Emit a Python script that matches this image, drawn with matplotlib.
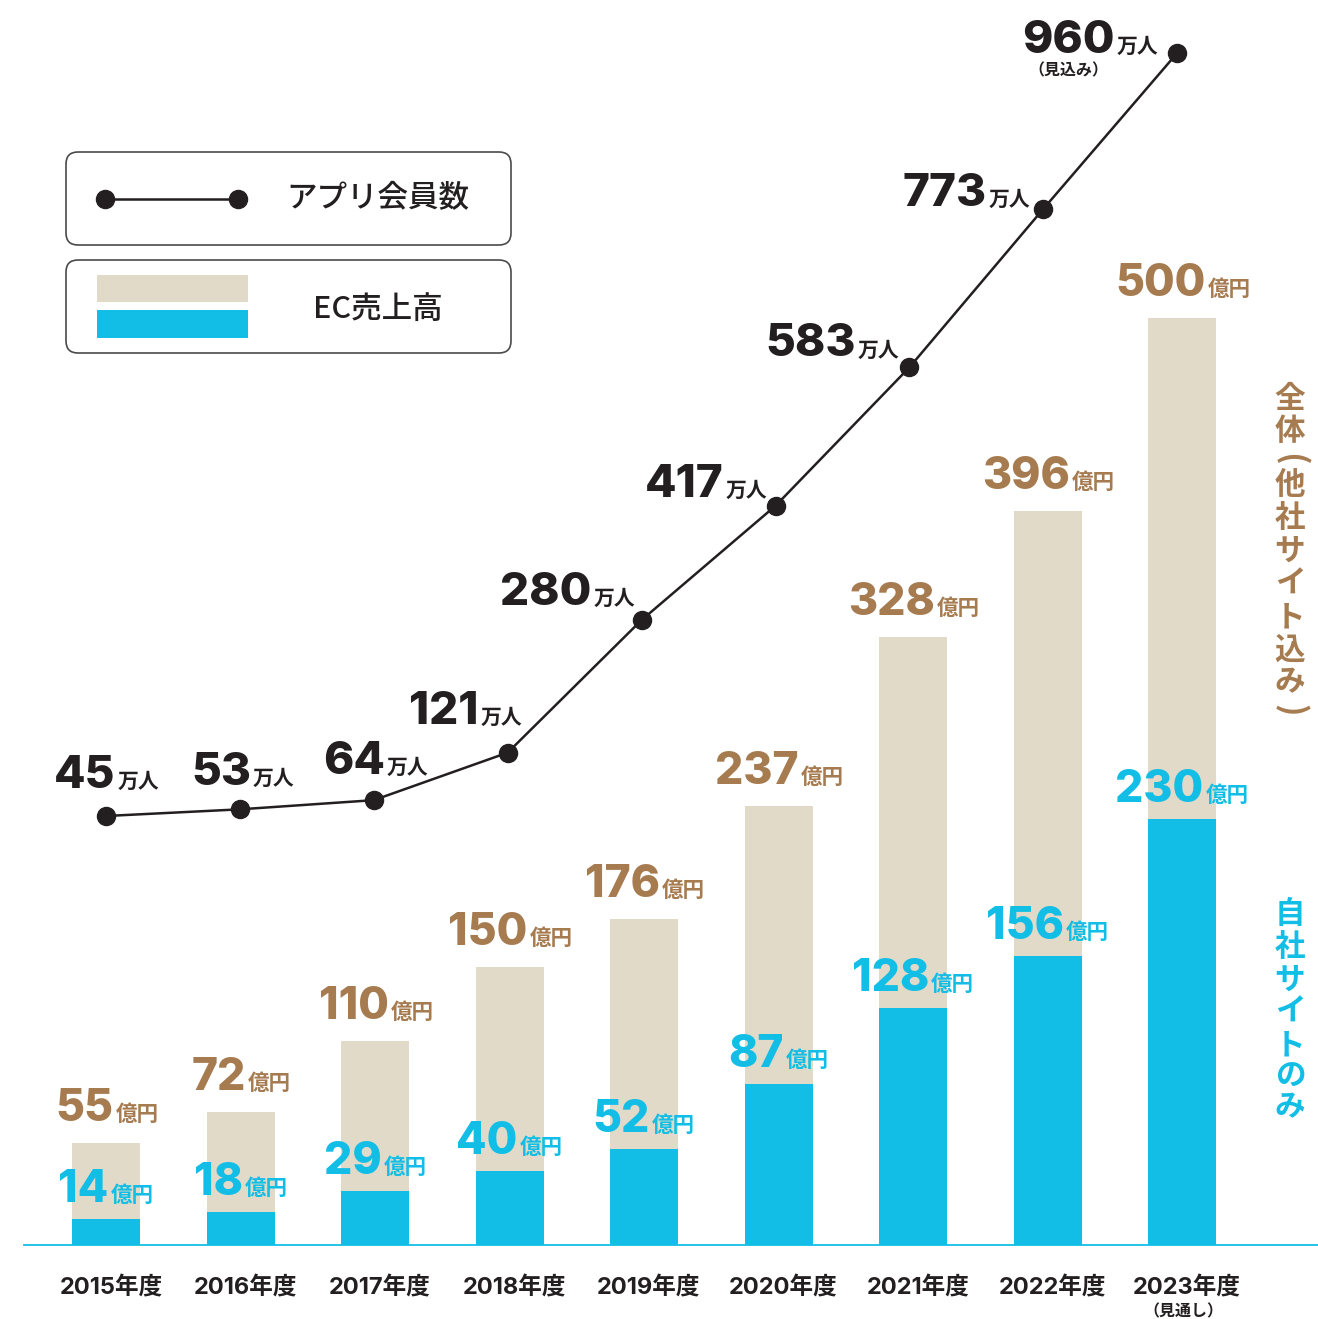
import matplotlib
matplotlib.use("Agg")
import matplotlib.pyplot as plt
from matplotlib.patches import FancyBboxPatch, Rectangle
from matplotlib.lines import Line2D

# ---------------- data ----------------
years = ["2015", "2016", "2017", "2018", "2019", "2020", "2021", "2022", "2023"]
year_suffix = "年度"
total_sales = [55, 72, 110, 150, 176, 237, 328, 396, 500]      # 億円 全体(他社サイト込み)
own_sales = [14, 18, 29, 40, 52, 87, 128, 156, 230]            # 億円 自社サイトのみ
app_members = [45, 53, 64, 121, 280, 417, 583, 773, 960]       # 万人 アプリ会員数
sales_unit = "億円"
member_unit = "万人"
legend_line_label = "アプリ会員数"
legend_bar_label = "EC売上高"
total_side_label = "全体(他社サイト込み)"
own_side_label = "自社サイトのみ"
last_member_note = "（見込み）"
last_year_note = "（見通し）"

# ---------------- style ----------------
BEIGE = "#E1DAC8"
CYAN = "#12BEE6"
BROWN = "#A67B50"
DARK = "#231F20"
NUM_FONT = ["Inter", "Noto Sans CJK JP"]
JP_FONT = ["Noto Sans CJK JP", "DejaVu Sans"]

W, H = 1318, 1319
fig = plt.figure(figsize=(W / 100, H / 100), dpi=100)
fig.patch.set_facecolor("white")

# bar axes: pixel mapping (bar centers at 106 + 134.5*i, baseline at y=1245)
ax = fig.add_axes([0, 0, 1, 1])
ax.patch.set_alpha(0)
bar_pitch = 134.5
ax.set_xlim(-106 / bar_pitch, (W - 106) / bar_pitch)
ppu = 927 / 500.0
ax.set_ylim(-(H - 1245) / ppu, 1245 / ppu)
ax.axis("off")

xs = list(range(len(years)))
bw = 68 / bar_pitch
ax.bar(xs, total_sales, width=bw, color=BEIGE, zorder=2)
ax.bar(xs, own_sales, width=bw, color=CYAN, zorder=3)
ax.axhline(0, xmin=24 / W, xmax=1, color=CYAN, lw=1.3, zorder=4)

# line axes
ax2 = fig.add_axes([0, 0, 1, 1])
ax2.patch.set_alpha(0)
line_pitch = 133.9
ax2.set_xlim(-106 / line_pitch, (W - 106) / line_pitch)
lppu = (1266 - 503) / 915.0
ax2.set_ylim(45 - 503 / lppu, 45 + (H - 503) / lppu)
ax2.axis("off")
ax2.plot(xs, app_members, color=DARK, lw=1.8, marker="o", ms=13, zorder=5)

renderer = fig.canvas.get_renderer()


def pair_label(a, x, y, num, unit, color, nsize, usize, up, dx=0.0, gap=2):
    t1 = a.annotate(num, (x, y), xytext=(0, up), textcoords="offset pixels",
                    ha="right", va="baseline", fontsize=nsize, fontweight="heavy",
                    color=color, family=NUM_FONT, zorder=6)
    t2 = a.annotate(unit, (x, y), xytext=(0, up), textcoords="offset pixels",
                    ha="left", va="baseline", fontsize=usize, fontweight="bold",
                    color=color, family=JP_FONT, zorder=6)
    w1 = t1.get_window_extent(renderer).width
    w2 = t2.get_window_extent(renderer).width
    total = w1 + gap + w2
    b = dx - total / 2 + w1
    t1.xyann = (b, up)
    t2.xyann = (b + gap, up)
    return t1, t2


# bar labels
for i in xs:
    pair_label(ax, i, total_sales[i], str(total_sales[i]), sales_unit, BROWN, 32, 15.5, 22, dx=1)
    pair_label(ax, i, own_sales[i], str(own_sales[i]), sales_unit, CYAN, 32, 15.5, 17, dx=0)

# line labels (center offsets / baseline heights in pixels)
line_dx = [1, 3, 2, -42, -74, -69, -77, -77, -87]
line_up = [28, 24, 26, 29, 15, 9, 11, 3, 0]
for i in xs:
    pair_label(ax2, i, app_members[i], str(app_members[i]), member_unit, DARK, 33, 15,
               line_up[i], dx=line_dx[i])
ax2.annotate(last_member_note, (xs[-1], app_members[-1]), xytext=(-109, -17),
             textcoords="offset pixels", ha="center", va="center", fontsize=11.5,
             fontweight="bold", color=DARK, family=JP_FONT)

# year labels
for i in xs:
    ax.annotate(years[i] + year_suffix, (i, 0), xytext=(5, -49), textcoords="offset pixels",
                ha="center", va="baseline", fontsize=17, fontweight="bold", color=DARK,
                family=NUM_FONT)
ax.annotate(last_year_note, (xs[-1], 0), xytext=(1, -66), textcoords="offset pixels",
            ha="center", va="center", fontsize=11.5, fontweight="bold", color=DARK,
            family=JP_FONT)


# ---------------- legend (figure pixels) ----------------
def fx(p):
    return p / W


def fy(p):
    return 1 - p / H


for (y0, y1) in [(152, 245), (260, 353)]:
    box = FancyBboxPatch((fx(66), fy(y1)), (511 - 66) / W, (y1 - y0) / H,
                         boxstyle=f"round,pad=0,rounding_size={12 / W}",
                         transform=fig.transFigure, facecolor="none",
                         edgecolor="#4a4a4a", lw=1.2)
    fig.add_artist(box)
fig.add_artist(Line2D([fx(105), fx(238)], [fy(199), fy(199)], transform=fig.transFigure,
                      color=DARK, lw=1.8, marker="o", ms=13))
fig.add_artist(Rectangle((fx(97), fy(302)), 151 / W, 27 / H, transform=fig.transFigure,
                         facecolor=BEIGE, edgecolor="none"))
fig.add_artist(Rectangle((fx(97), fy(338)), 151 / W, 28 / H, transform=fig.transFigure,
                         facecolor=CYAN, edgecolor="none"))
fig.text(fx(378), fy(199), legend_line_label, ha="center", va="center", fontsize=22,
         fontweight="medium", color=DARK, family=JP_FONT)
fig.text(fx(378), fy(309), legend_bar_label, ha="center", va="center", fontsize=22,
         fontweight="medium", color=DARK, family=JP_FONT)

# ---------------- vertical side labels ----------------
total_centers = [399, 431, 459, 485, 518, 551, 584, 617, 650, 682, 710]
for ch, cy in zip(total_side_label, total_centers):
    paren = ch in "()"
    fig.text(fx(1290), fy(cy), ch, ha="center", va="center",
             fontsize=24 if paren else 22, rotation=-90 if paren else 0,
             fontweight="bold", color=BROWN, family=JP_FONT)
own_centers = [914, 947, 980, 1012, 1045, 1077, 1107]
for ch, cy in zip(own_side_label, own_centers):
    fig.text(fx(1290), fy(cy), ch, ha="center", va="center", fontsize=22,
             fontweight="bold", color=CYAN, family=JP_FONT)

fig.savefig("out.png", dpi=100, facecolor="white")
